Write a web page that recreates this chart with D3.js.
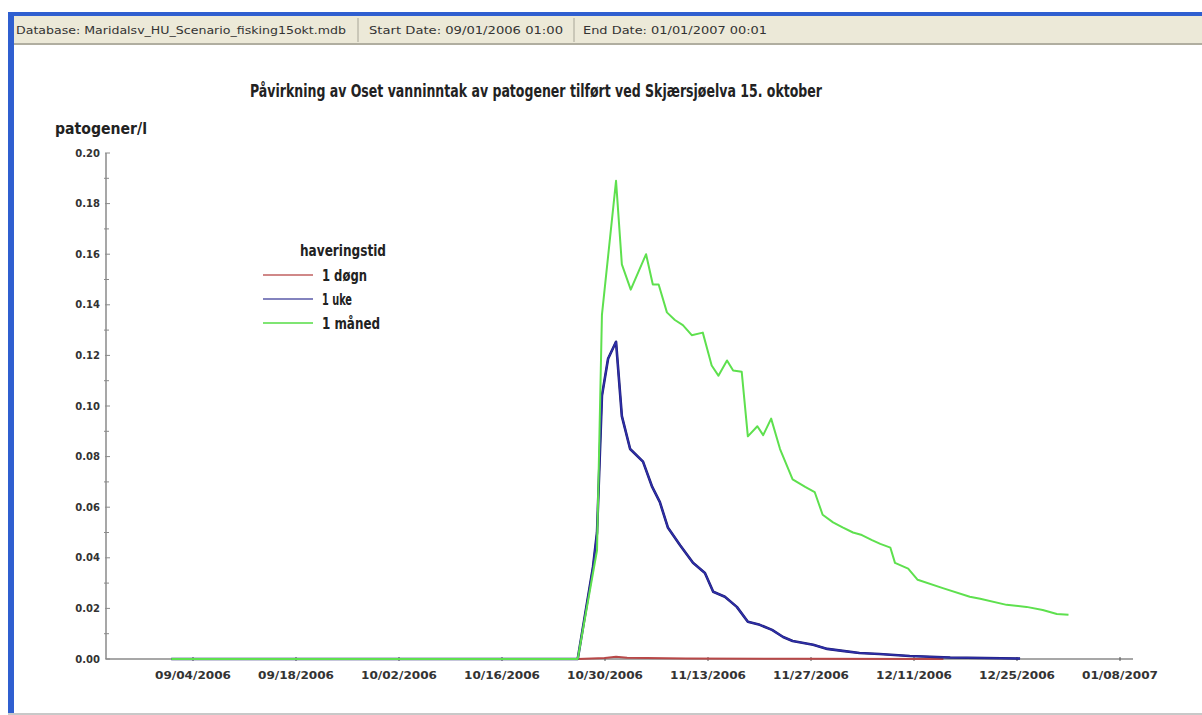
<!DOCTYPE html>
<html><head><meta charset="utf-8">
<script src="https://cdn.jsdelivr.net/npm/d3@7"></script>
<style>
html,body{margin:0;padding:0;background:#fff;overflow:hidden;}
svg{display:block;}
</style></head>
<body>
<svg id="chart" width="1202" height="715"></svg>
<script>
// ---- data ----
const headerTexts = ["Database: Maridalsv_HU_Scenario_fisking15okt.mdb", "Start Date: 09/01/2006 01:00", "End Date: 01/01/2007 00:01"];
const chartTitle = "Påvirkning av Oset vanninntak av patogener tilført ved Skjærsjøelva 15. oktober";
const yLabel = "patogener/l";
const legendTitle = "haveringstid";
const seriesNames = ["1 døgn", "1 uke", "1 måned"];
const seriesColors = ["#b84848", "#2e2ea8", "#5ee04e"];
const xTickDates = ["2006-09-04","2006-09-18","2006-10-02","2006-10-16","2006-10-30","2006-11-13","2006-11-27","2006-12-11","2006-12-25","2007-01-08"];
const yTicks = [0,0.02,0.04,0.06,0.08,0.10,0.12,0.14,0.16,0.18,0.20];

const dognDates = ["2006-10-26T07:00","2006-10-30T00:00","2006-10-31T12:00","2006-11-02T00:00","2006-11-10T00:00","2006-11-25T00:00","2006-12-15T00:00"];
const dognValues = [0,0.0004,0.0009,0.0005,0.0002,0.0001,0];

const ukeDates = ["2006-09-01T01:00","2006-10-26T07:00","2006-10-28T09:00","2006-10-28T22:00","2006-10-29T14:00","2006-10-30T10:00","2006-10-31T12:00","2006-11-01T07:00","2006-11-02T10:00","2006-11-04T04:00","2006-11-05T10:00","2006-11-06T11:00","2006-11-07T13:00","2006-11-09T05:00","2006-11-10T23:00","2006-11-12T14:00","2006-11-13T17:00","2006-11-15T07:00","2006-11-16T22:00","2006-11-18T10:00","2006-11-20T01:00","2006-11-21T17:00","2006-11-23T05:00","2006-11-24T12:00","2006-11-27T07:00","2006-11-29T05:00","2006-12-01T07:00","2006-12-03T14:00","2006-12-06T07:00","2006-12-10T10:00","2006-12-15T22:00","2006-12-25T10:00"];
const ukeValues = [0,0,0.0365,0.050,0.104,0.1187,0.1254,0.096,0.083,0.078,0.068,0.062,0.052,0.045,0.038,0.034,0.0266,0.0246,0.0206,0.0147,0.0135,0.0115,0.0087,0.0071,0.0056,0.004,0.0032,0.0024,0.002,0.0012,0.0006,0.0002];

const manedDates = ["2006-09-01T01:00","2006-10-26T07:00","2006-10-28T22:00","2006-10-29T14:00","2006-10-31T12:00","2006-11-01T07:00","2006-11-02T12:00","2006-11-04T14:00","2006-11-05T12:00","2006-11-06T07:00","2006-11-07T10:00","2006-11-08T12:00","2006-11-09T14:00","2006-11-10T19:00","2006-11-12T07:00","2006-11-13T12:00","2006-11-14T10:00","2006-11-15T14:00","2006-11-16T10:00","2006-11-17T14:00","2006-11-18T10:00","2006-11-19T17:00","2006-11-20T12:00","2006-11-21T14:00","2006-11-22T19:00","2006-11-24T12:00","2006-11-26T05:00","2006-11-27T12:00","2006-11-28T14:00","2006-11-30T00:00","2006-12-01T07:00","2006-12-02T17:00","2006-12-03T22:00","2006-12-05T07:00","2006-12-06T10:00","2006-12-07T19:00","2006-12-08T10:00","2006-12-10T05:00","2006-12-11T12:00","2006-12-14T22:00","2006-12-18T14:00","2006-12-20T00:00","2006-12-23T14:00","2006-12-26T07:00","2006-12-28T12:00","2006-12-30T10:00","2007-01-01T00:00"];
const manedValues = [0,0,0.043,0.136,0.189,0.156,0.146,0.160,0.148,0.148,0.137,0.134,0.132,0.128,0.129,0.116,0.112,0.118,0.114,0.1135,0.088,0.092,0.0885,0.095,0.083,0.071,0.068,0.066,0.057,0.054,0.052,0.050,0.049,0.047,0.0455,0.044,0.038,0.0357,0.0313,0.028,0.0246,0.0238,0.0214,0.0206,0.0194,0.0178,0.0175];

// ---- drawing ----
const svg = d3.select("#chart");
const parseT = d3.timeParse("%Y-%m-%dT%H:%M");
const parseD = d3.timeParse("%Y-%m-%d");
const condFont = "DejaVu Sans Condensed, Liberation Sans Narrow, sans-serif";

// frame: window chrome
svg.append("rect").attr("x",0).attr("y",0).attr("width",1202).attr("height",715).attr("fill","#fff");
svg.append("rect").attr("x",8).attr("y",12).attr("width",1194).attr("height",4).attr("fill","#2f5fd0");
svg.append("rect").attr("x",8).attr("y",16).attr("width",1194).attr("height",27).attr("fill","#ece9d8");
svg.append("rect").attr("x",8).attr("y",43).attr("width",1194).attr("height",2).attr("fill","#b0aea0");
svg.append("rect").attr("x",8).attr("y",12).attr("width",6).attr("height",701).attr("fill","#2f5fd0");
svg.append("rect").attr("x",8).attr("y",713).attr("width",1194).attr("height",2).attr("fill","#c8c8c8");
const hdrX = [16, 369, 583], hdrW = [330, 194, 184];
[358, 574].forEach(x => svg.append("line").attr("x1",x).attr("x2",x).attr("y1",18).attr("y2",42).attr("stroke","#a8a698"));
headerTexts.forEach((t,i) => svg.append("text").attr("x",hdrX[i]).attr("y",34)
  .attr("font-family","DejaVu Sans, Tahoma, sans-serif").attr("font-size",11).attr("fill","#333")
  .attr("textLength",hdrW[i]).attr("lengthAdjust","spacingAndGlyphs").text(t));

// scales
const x = d3.scaleTime().domain([parseD("2006-09-04"), parseD("2007-01-08")]).range([193, 1120]);
const y = d3.scaleLinear().domain([0, 0.2]).range([659, 153]);
const axisX0 = 106, axisX1 = 1133;
const axisCol = "#8a8a8a";

// title
svg.append("text").attr("x",250).attr("y",97)
  .attr("font-family",condFont).attr("font-size",17).attr("font-weight",600)
  .attr("fill","#222").attr("textLength",572).attr("lengthAdjust","spacingAndGlyphs").text(chartTitle);
svg.append("text").attr("x",55).attr("y",134)
  .attr("font-family",condFont).attr("font-size",16).attr("font-weight",600)
  .attr("fill","#222").attr("textLength",92).attr("lengthAdjust","spacingAndGlyphs").text(yLabel);

// y axis
svg.append("line").attr("x1",axisX0).attr("x2",axisX0).attr("y1",y(0.2)).attr("y2",y(0)).attr("stroke",axisCol).attr("stroke-width",1.5);
const yMinor = d3.range(1,20,2).map(v => v/100);
svg.selectAll(".ymin").data(yMinor).join("line").attr("class","ymin")
  .attr("x1",axisX0-2).attr("x2",axisX0+3).attr("y1",d=>y(d)).attr("y2",d=>y(d)).attr("stroke",axisCol);
svg.selectAll(".ymaj").data(yTicks).join("line").attr("class","ymaj")
  .attr("x1",axisX0-1).attr("x2",axisX0+4).attr("y1",d=>y(d)).attr("y2",d=>y(d)).attr("stroke",axisCol);
svg.selectAll(".ylab").data(yTicks).join("text").attr("class","ylab")
  .attr("x",axisX0-6).attr("y",d=>y(d)+3.5).attr("text-anchor","end")
  .attr("font-family","DejaVu Sans, sans-serif").attr("font-size",10).attr("font-weight","bold").attr("fill","#333")
  .text(d=>d3.format(".2f")(d));

// x axis
svg.append("line").attr("x1",axisX0).attr("x2",axisX1).attr("y1",y(0)).attr("y2",y(0)).attr("stroke",axisCol).attr("stroke-width",1.5);
const xt = xTickDates.map(parseD);
svg.selectAll(".xmaj").data(xt).join("line").attr("class","xmaj")
  .attr("x1",d=>x(d)).attr("x2",d=>x(d)).attr("y1",y(0)-2).attr("y2",y(0)+2).attr("stroke","#555");
svg.selectAll(".xlab").data(xt).join("text").attr("class","xlab")
  .attr("x",d=>x(d)).attr("y",679).attr("text-anchor","middle")
  .attr("font-family","DejaVu Sans, sans-serif").attr("font-size",10).attr("font-weight","bold").attr("fill","#333")
  .attr("textLength",76).attr("lengthAdjust","spacingAndGlyphs")
  .text(d=>d3.timeFormat("%m/%d/%Y")(d));

// series
const line = d3.line().x(d=>x(d[0])).y(d=>y(d[1]));
const series = [
  {dates: dognDates, values: dognValues},
  {dates: ukeDates, values: ukeValues},
  {dates: manedDates, values: manedValues}
];
series.forEach((s,i) => {
  const pts = s.dates.map((d,j) => [parseT(d), s.values[j]]);
  if (i === 1) {
    svg.append("path").datum(pts).attr("d",line).attr("fill","none").attr("stroke","#1c1c70").attr("stroke-width",2.6).attr("stroke-linejoin","round");
  }
  svg.append("path").datum(pts).attr("d",line).attr("fill","none")
    .attr("stroke",seriesColors[i]).attr("stroke-width", i===1 ? 1.6 : 2).attr("stroke-linejoin","round");
});

// legend
svg.append("text").attr("x",300).attr("y",256)
  .attr("font-family",condFont).attr("font-size",16).attr("font-weight",600)
  .attr("fill","#222").attr("textLength",86).attr("lengthAdjust","spacingAndGlyphs").text(legendTitle);
const legW = [45, 30, 58];
seriesNames.forEach((n,i) => {
  const ly = 275 + i*24;
  svg.append("line").attr("x1",263).attr("x2",313).attr("y1",ly).attr("y2",ly)
    .attr("stroke", ["#c06060","#5a5aa8","#55dd44"][i]).attr("stroke-width",1.5);
  svg.append("text").attr("x",322).attr("y",ly+6)
    .attr("font-family",condFont).attr("font-size",16).attr("font-weight",600)
    .attr("fill","#222").attr("textLength",legW[i]).attr("lengthAdjust","spacingAndGlyphs").text(n);
});
</script>
</body></html>
